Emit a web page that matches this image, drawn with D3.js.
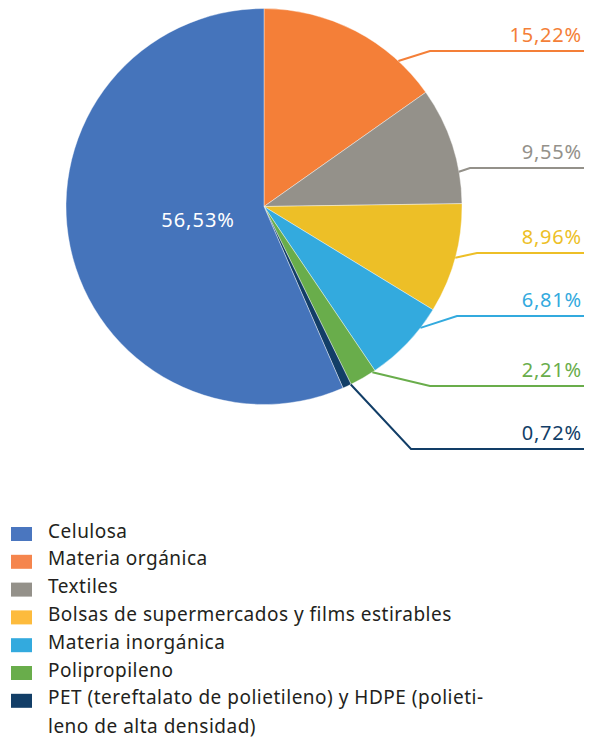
<!DOCTYPE html>
<html>
<head>
<meta charset="utf-8">
<script src="https://cdn.jsdelivr.net/npm/d3@7"></script>
<style>
  body { margin: 0; background: #fff; }
  text { font-family: "Noto Sans", "Open Sans", sans-serif; }
</style>
</head>
<body>
<div id="chart"></div>
<script>
// data, clockwise from 12 o'clock
const categories = ["Materia orgánica", "Textiles", "Bolsas de supermercados y films estirables",
    "Materia inorgánica", "Polipropileno", "PET (tereftalato de polietileno) y HDPE (polietileno de alta densidad)", "Celulosa"];
const values = [15.22, 9.55, 8.96, 6.81, 2.21, 0.72, 56.53];
const valueLabels = ["15,22%", "9,55%", "8,96%", "6,81%", "2,21%", "0,72%", "56,53%"];
const colors = ["#f47f38", "#94918a", "#edbf27", "#33aade", "#69ad4b", "#123e67", "#4574bb"];

// legend order + text lines
const legendOrder = [6, 0, 1, 2, 3, 4, 5];
const legendLines = [
    ["Celulosa"],
    ["Materia orgánica"],
    ["Textiles"],
    ["Bolsas de supermercados y films estirables"],
    ["Materia inorgánica"],
    ["Polipropileno"],
    ["PET (tereftalato de polietileno) y HDPE (polieti-", "leno de alta densidad)"]
];
const legendColors = ["#4a76bf", "#f5854d", "#94918a", "#fdbb3d", "#33aade", "#69ad4b", "#123e67"];

// callout layout for the small slices (line row, elbow x, where on the slice edge the line starts)
const calloutY = [51, 168, 253, 316, 386, 449];
const elbowX = [430, 470, 477, 457, 430, 411];
const anchorAt = [0.78, 0.73, 0.49, 0.26, 0.11, 0.04];

const width = 589, height = 747;
const cx = 264, cy = 206.5, r = 198;
const lineEnd = 584;

const svg = d3.select("#chart")
    .append("svg")
    .attr("width", width)
    .attr("height", height)
;

const g = svg.append("g").attr("transform", `translate(${cx},${cy})`);

const pie = d3.pie().sort(null).value(d => d)(values);
const arc = d3.arc().innerRadius(0).outerRadius(r);

g.selectAll("path")
    .data(pie)
    .join("path")
    .attr("d", arc)
    .attr("fill", (d, i) => colors[i])
    .attr("stroke", "#fff")
    .attr("stroke-width", 0.4)
;

// big slice label inside
const big = pie[6];
const midBig = (big.startAngle + big.endAngle) / 2;
g.append("text")
    .attr("x", Math.sin(midBig) * r * 0.34)
    .attr("y", -Math.cos(midBig) * r * 0.34)
    .attr("text-anchor", "middle")
    .attr("dy", "0.35em")
    .attr("fill", "#fff")
    .style("font-size", "20px")
    .style("letter-spacing", "1px")
    .text(valueLabels[6])
;

// callouts
const callouts = svg.append("g");
pie.slice(0, 6).forEach((d, i) => {
    const a = d.startAngle + (d.endAngle - d.startAngle) * anchorAt[i];
    const sx = cx + Math.sin(a) * r, sy = cy - Math.cos(a) * r;
    callouts.append("polyline")
        .attr("points", [[sx, sy], [elbowX[i], calloutY[i]], [lineEnd, calloutY[i]]].map(p => p.join(",")).join(" "))
        .attr("fill", "none")
        .attr("stroke", colors[i])
        .attr("stroke-width", 2)
    ;
    callouts.append("text")
        .attr("x", 582)
        .attr("y", calloutY[i] - 9)
        .attr("text-anchor", "end")
        .attr("fill", colors[i])
        .style("font-size", "20px")
        .style("letter-spacing", "0.8px")
        .text(valueLabels[i])
    ;
});

// legend
const rowH = 27.8;
const legend = svg.append("g").attr("transform", "translate(11,527)");
const rows = legend.selectAll("g")
    .data(legendOrder)
    .join("g")
    .attr("transform", (d, i) => `translate(0,${i * rowH})`)
;
rows.append("rect")
    .attr("width", 21)
    .attr("height", 14)
    .attr("fill", (d, i) => legendColors[i])
;
rows.append("text")
    .attr("x", 37)
    .attr("y", 10.5)
    .attr("fill", "#231f20")
    .style("font-size", "19px")
    .style("letter-spacing", "0.5px")
    .selectAll("tspan")
    .data((d, i) => legendLines[i])
    .join("tspan")
    .attr("x", 37)
    .attr("dy", (d, j) => j ? 29 : 0)
    .text(d => d)
;
</script>
</body>
</html>
